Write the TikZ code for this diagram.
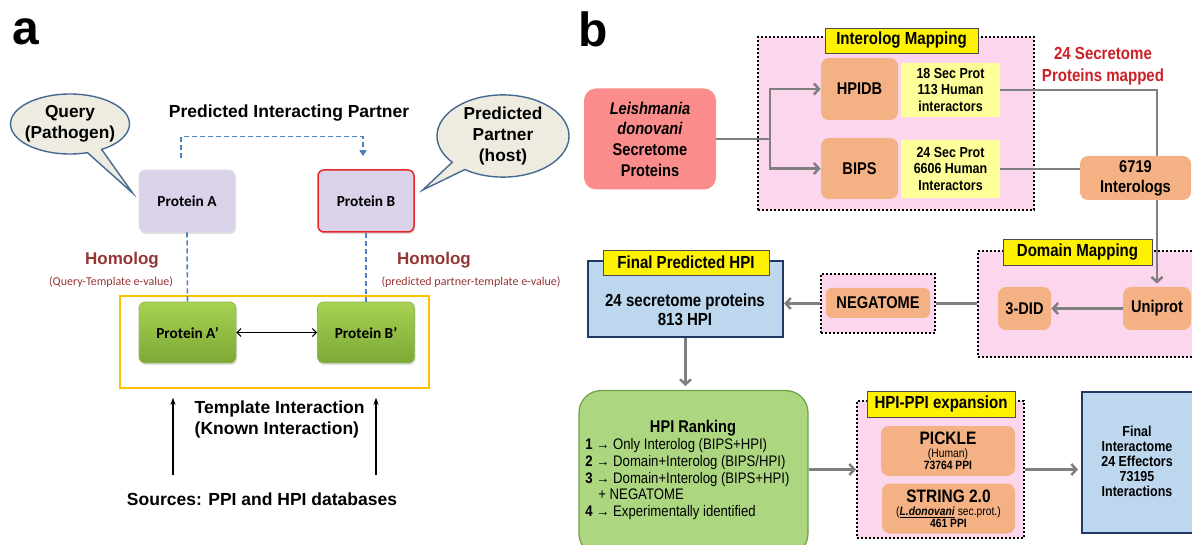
\documentclass[tikz,border=0pt]{standalone}
\usepackage{fontspec}
\setmainfont{Liberation Sans}
\newfontfamily\narrowf[FakeStretch=0.86]{Liberation Sans}
\newfontfamily\calibf{Carlito}
\usetikzlibrary{arrows.meta,shapes.callouts,shadows,positioning}

\definecolor{pinkbg}{RGB}{252,214,236}
\definecolor{orangebox}{RGB}{244,177,131}
\definecolor{salmon}{RGB}{250,140,140}
\definecolor{paleyellow}{RGB}{255,255,153}
\definecolor{lightblue}{RGB}{189,215,238}
\definecolor{navy}{RGB}{31,56,100}
\definecolor{rankgreen}{RGB}{172,214,128}
\definecolor{rankborder}{RGB}{112,160,70}
\definecolor{arrowgray}{RGB}{127,127,127}
\definecolor{homred}{RGB}{148,54,52}
\definecolor{mapred}{RGB}{204,32,40}
\definecolor{dashblue}{RGB}{79,129,189}
\definecolor{calloutbg}{RGB}{238,236,225}
\definecolor{calloutline}{RGB}{70,105,145}
\definecolor{lavender}{RGB}{217,210,233}
\definecolor{tmplorange}{RGB}{255,192,0}
\definecolor{greentop}{RGB}{168,210,82}
\definecolor{greenbot}{RGB}{124,168,54}

\begin{document}
\begin{tikzpicture}[x=1pt,y=-1pt,thick,
  callout/.style={ellipse callout,draw=calloutline,line width=1.4pt,fill=calloutbg,inner sep=0pt,align=center,font=\fontsize{17.3}{21}\selectfont\bfseries},
  prot/.style={rectangle,rounded corners=6pt,minimum width=96pt,minimum height=62pt,font=\calibf\fontsize{15.3}{17}\selectfont\bfseries,drop shadow={opacity=0.25,shadow xshift=1pt,shadow yshift=-2pt}},
  homolog/.style={text=homred,font=\fontsize{17}{19}\selectfont\bfseries},
  evalue/.style={text=homred,font=\calibf\fontsize{12}{14}\selectfont},
  dashline/.style={draw=dashblue,line width=1.6pt,dash pattern=on 5pt off 3pt},
  dotbox/.style={draw=black,fill=pinkbg,line width=2pt,dash pattern=on 2pt off 2pt},
  tag/.style={fill=yellow,draw=black!70,line width=0.8pt,inner sep=0pt,font=\narrowf\fontsize{17.5}{20}\selectfont\bfseries},
  db/.style={fill=orangebox,rounded corners=8pt,inner sep=0pt,align=center,font=\narrowf\fontsize{17}{20}\selectfont\bfseries},
  info/.style={fill=paleyellow,inner sep=0pt,align=center,font=\narrowf\fontsize{14.5}{16.5}\selectfont\bfseries},
  bluebox/.style={fill=lightblue,draw=navy,line width=2.2pt},
  gline/.style={draw=arrowgray,line width=2.5pt},
  garrow/.style={gline,-{Straight Barb[length=5pt,width=11pt]}}]

\path[use as bounding box] (0,0) rectangle (1192,545);
\clip (0,0) rectangle (1192,545);

\node[font=\fontsize{48}{48}\selectfont\bfseries] (lbla) at (26,32) {a};
\node[font=\fontsize{48}{48}\selectfont\bfseries] (lblb) at (593,29) {b};

\node[draw=tmplorange,line width=1.5pt,minimum width=309pt,minimum height=92pt] (tmpl) at (274.5,342) {};
\node[prot,fill=lavender,draw=black!12] (pa) at (187,201) {Protein A};
\node[prot,fill=lavender,draw={rgb,255:red,232;green,38;blue,42},line width=1.5pt] (pb) at (366,201) {Protein B};
\node[prot,top color=greentop,bottom color=greenbot,draw=greenbot!80,minimum width=97pt,minimum height=61pt] (pa2) at (187.5,332.5) {Protein A’};
\node[prot,top color=greentop,bottom color=greenbot,draw=greenbot!80,minimum width=97pt,minimum height=61pt] (pb2) at (366,332.5) {Protein B’};

\node[callout,inner xsep=-8pt,minimum width=119pt,minimum height=60pt,callout absolute pointer={([xshift=-6pt,yshift=8pt]pa.west)}] (query) at (70,124) {Query\\(Pathogen)};
\node[callout,minimum width=132pt,minimum height=80pt,callout absolute pointer={([xshift=8pt,yshift=11pt]pb.east)}] (partner) at (503,136) {Predicted\\Partner\\(host)};
\node[font=\fontsize{17.5}{20}\selectfont\bfseries] (pip) at (289,113) {Predicted Interacting Partner};

\draw[dashline,-{Triangle[length=6pt,width=7pt]}] ([xshift=-6pt,yshift=12pt]pa.north) -- ++(0,-21) -| ([xshift=-3pt,yshift=13pt]pb.north);
\draw[dashline] (pa.south) to (pa2.north);
\draw[dashline] (pb.south) to (pb2.north);

\node[homolog] (homA) at (122,260) {Homolog};
\node[evalue] (evA) at (111,282) {(Query-Template e-value)};
\node[homolog] (homB) at (434,260) {Homolog};
\node[evalue] (evB) at (471,282) {(predicted partner-template e-value)};

\draw[{Straight Barb[length=4pt,width=8pt]}-{Straight Barb[length=4pt,width=8pt]},line width=1pt] (pa2) to (pb2);

\coordinate (srcA) at (173,475);
\coordinate (srcB) at (376,475);
\draw[-{Stealth[length=7pt,width=5pt]},line width=1.3pt,shorten >=9pt] (srcA) to (srcA |- tmpl.south);
\draw[-{Stealth[length=7pt,width=5pt]},line width=1.3pt,shorten >=9pt] (srcB) to (srcB |- tmpl.south);
\node[anchor=west,align=left,font=\fontsize{17.5}{21}\selectfont\bfseries] (known) at (191,419.5) {Template Interaction\\(Known Interaction)};
\node[font=\fontsize{17.5}{20}\selectfont\bfseries] (sources) at (262,499) {Sources: PPI and HPI databases};

\node[db,fill=salmon,rounded corners=12pt,minimum width=132pt,minimum height=101pt,font=\narrowf\fontsize{17}{20.7}\selectfont\bfseries] (leish) at (650,139) {\textit{Leishmania}\\\textit{donovani}\\Secretome\\Proteins};

\node[dotbox,minimum width=276pt,minimum height=173pt] (imap) at (896,123.5) {};
\node[tag,minimum width=153pt,minimum height=25pt] (imapT) at (901.5,40.5) {Interolog Mapping};
\node[db,minimum width=77pt,minimum height=62pt] (hpidb) at (859.5,89) {HPIDB};
\node[info,minimum width=99pt,minimum height=54pt] (hinfo) at (950.5,90) {18 Sec Prot\\113 Human\\interactors};
\node[db,minimum width=77pt,minimum height=61pt] (bips) at (859.5,168.5) {BIPS};
\node[info,minimum width=99pt,minimum height=58pt] (binfo) at (950.5,169) {24 Sec Prot\\6606 Human\\Interactors};

\coordinate (split) at (770,139);
\draw[gline] (leish.east) to (split);
\draw[garrow] (split) |- (hpidb.west);
\draw[garrow] (split) |- (bips.west);

\node[text=mapred,align=center,font=\narrowf\fontsize{17.5}{22}\selectfont\bfseries] (mapped) at (1103,66) {24 Secretome\\Proteins mapped};

\node[dotbox,anchor=west,minimum width=230pt,minimum height=106pt] (dom) at (977,304) {};
\node[tag,minimum width=149pt,minimum height=26pt] (domT) at (1077.5,252) {Domain Mapping};
\node[db,minimum width=68pt,minimum height=43pt] (uni) at (1157,308.5) {Uniprot};
\node[db,minimum width=53pt,minimum height=43pt] (did) at (1024.5,308.5) {3-DID};
\draw[garrow] (uni) to (did);
\draw[garrow,shorten >=3pt] (hinfo.east) -| (uni.north);

\node[db,minimum width=111pt,minimum height=44pt] (inter) at (1135.5,178) {6719\\Interologs};
\draw[gline] (binfo.east) to (binfo.east -| inter.west);

\node[dotbox,minimum width=114pt,minimum height=59pt] (negbox) at (878,303.5) {};
\node[db,rounded corners=6pt,minimum width=104pt,minimum height=30pt] (neg) at (878,303) {NEGATOME};
\draw[gline] (negbox.east) to (negbox.east -| dom.west);

\node[bluebox,minimum width=195pt,minimum height=76pt] (fin) at (685.5,299) {};
\node[tag,minimum width=166pt,minimum height=25pt] (finT) at (686,262.5) {Final Predicted HPI};
\node[align=center,font=\narrowf\fontsize{17.5}{19}\selectfont\bfseries] (finX) at (685,309.5) {24 secretome proteins\\813 HPI};
\draw[garrow] (negbox.west) to (negbox.west -| fin.east);

\node[anchor=north,rounded corners=22pt,fill=rankgreen,draw=rankborder,line width=1.2pt,minimum width=229pt,minimum height=165pt] (rank) at (693.5,390) {};
\draw[garrow,shorten >=4pt] (fin.south) to (fin.south |- rank.north);
\node[font=\narrowf\fontsize{17}{19}\selectfont\bfseries] (rankT) at (693,428) {HPI Ranking};
\node[anchor=north west,align=left,inner sep=0pt,font=\narrowf\fontsize{15.3}{16.8}\selectfont] (rankL) at (585,438) {\textbf{1 →} Only Interolog (BIPS+HPI)\\\textbf{2 →} Domain+Interolog (BIPS/HPI)\\\textbf{3 →} Domain+Interolog (BIPS+HPI)\\\hspace*{13pt}+ NEGATOME\\\textbf{4 →} Experimentally identified};

\node[dotbox,minimum width=167pt,minimum height=137pt] (ppi) at (940.5,469.5) {};
\node[tag,minimum width=148pt,minimum height=26pt] (ppiT) at (941,404) {HPI-PPI expansion};
\node[db,minimum width=134pt,minimum height=50pt,font=\narrowf\bfseries] (pickle) at (948,451) {{\fontsize{18}{18}\selectfont PICKLE}\\[1pt]{\fontsize{12}{14}\selectfont\mdseries (Human)}\\[0pt]{\fontsize{12}{14}\selectfont 73764 PPI}};
\node[db,minimum width=133pt,minimum height=50pt,font=\narrowf\bfseries] (string) at (948.5,508.5) {{\fontsize{18}{18}\selectfont STRING 2.0}\\[1pt]{\fontsize{12}{14}\selectfont\mdseries (\underline{\textbf{\textit{L.donovani}}} sec.prot.)}\\[0pt]{\fontsize{12}{14}\selectfont 461 PPI}};
\draw[garrow] (rank.east |- ppi.west) to (ppi.west);

\node[bluebox,anchor=west,minimum width=125pt,minimum height=141pt] (fint) at (1081,462.5) {};
\node[align=center,font=\narrowf\fontsize{14.5}{15}\selectfont\bfseries] (fintX) at (1137,461) {Final\\Interactome\\24 Effectors\\73195\\Interactions};
\draw[garrow,shorten >=3pt] (ppi.east) to (ppi.east -| fint.west);

\end{tikzpicture}
\end{document}
